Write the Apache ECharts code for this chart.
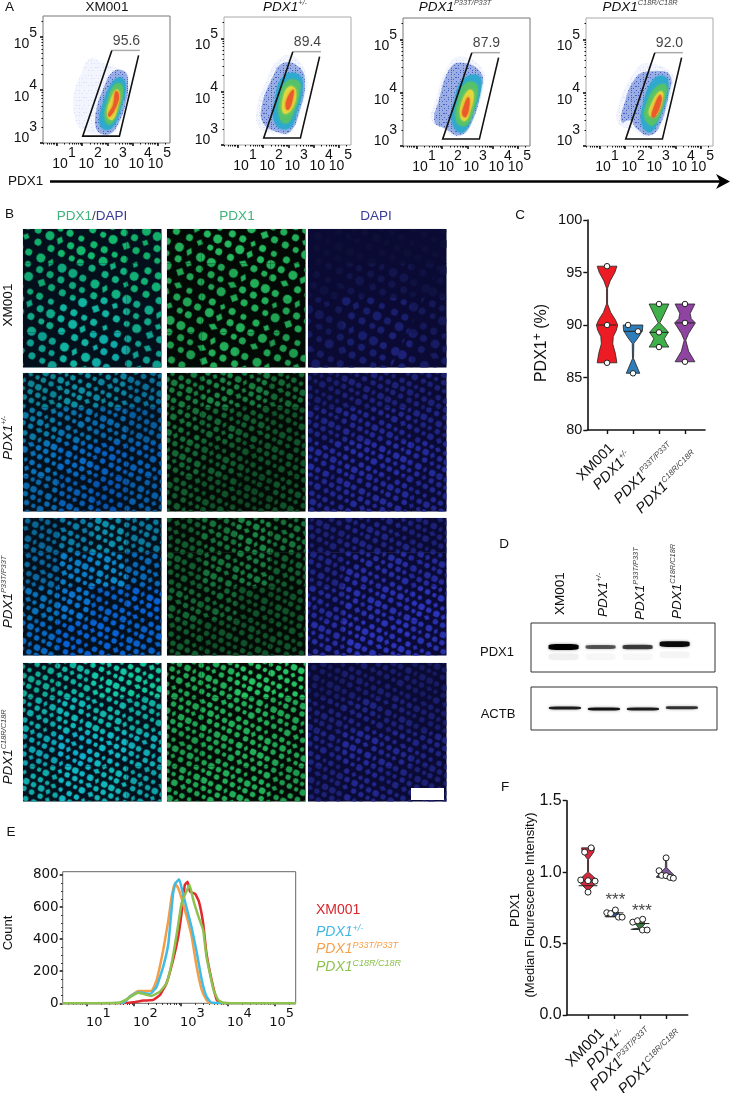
<!DOCTYPE html>
<html>
<head>
<meta charset="utf-8">
<style>html,body{margin:0;padding:0;background:#fff}#chart{width:731px;height:1093px}</style>
<script src="https://cdn.jsdelivr.net/npm/echarts@6/dist/echarts.min.js"></script>
</head>
<body>
<div id="chart"></div>
<script>
const FONT = '"Liberation Sans", Arial, sans-serif';
const WIDE = '"DejaVu Sans", sans-serif';

// panel A: gate and percentage, log10 units
const gatePct = ['95.6', '89.4', '87.9', '92.0'];
const gateCorners = [[2.02, 3.13], [3.17, 4.75], [4.28, 4.75], [3.47, 3.13]];
// density contours of each cloud, log10 units, outer to inner
const cloud1 = [
  [[1.77,3.38],[1.66,3.88],[1.97,4.32],[2.32,4.60],[2.82,4.51],[3.35,4.42],[3.81,4.29],[3.81,3.88],[3.48,3.38],[3.15,3.16],[2.49,3.16],[2.03,3.25]],
  [[2.53,3.31],[2.56,3.63],[2.82,4.01],[3.22,4.35],[3.68,4.35],[3.81,4.13],[3.72,3.75],[3.41,3.35],[3.08,3.17],[2.69,3.19]],
  [[2.69,3.38],[2.82,3.75],[3.22,4.16],[3.55,4.23],[3.72,4.07],[3.55,3.69],[3.28,3.35],[2.95,3.25]],
  [[2.89,3.47],[3.02,3.82],[3.28,4.10],[3.55,4.10],[3.59,3.88],[3.35,3.53],[3.08,3.35]],
  [[2.98,3.53],[3.15,3.85],[3.35,4.01],[3.48,3.94],[3.41,3.69],[3.19,3.44]],
  [[3.02,3.53],[3.22,3.72],[3.32,3.98],[3.45,3.91],[3.37,3.72],[3.10,3.50]]
];
const cloud2 = [
  [[1.87,3.31],[1.74,3.66],[2.14,4.23],[2.60,4.60],[3.19,4.67],[3.72,4.26],[3.52,3.72],[3.06,3.22],[2.47,3.22]],
  [[2.00,3.41],[1.94,3.72],[2.33,4.23],[2.80,4.54],[3.45,4.45],[3.65,4.16],[3.45,3.66],[3.06,3.25],[2.53,3.25]],
  [[2.47,3.41],[2.47,3.85],[2.80,4.29],[3.39,4.32],[3.56,4.10],[3.32,3.60],[3.00,3.31]],
  [[2.66,3.50],[2.66,3.91],[2.93,4.19],[3.39,4.19],[3.45,4.01],[3.19,3.60],[2.93,3.41]],
  [[2.80,3.60],[2.80,3.91],[3.06,4.10],[3.30,4.01],[3.12,3.66]],
  [[2.90,3.69],[2.93,3.85],[3.19,4.04],[3.16,3.85],[3.00,3.66]]
];
const cloud3 = [
  [[1.57,3.48],[1.70,3.80],[2.29,4.55],[2.82,4.68],[3.61,4.43],[3.61,4.11],[3.08,3.36],[2.62,3.17],[2.03,3.33]],
  [[1.70,3.45],[1.83,3.80],[2.36,4.49],[2.95,4.55],[3.55,4.36],[3.55,4.08],[3.15,3.42],[2.69,3.20],[2.10,3.33]],
  [[2.43,3.39],[2.49,3.86],[2.82,4.24],[3.35,4.33],[3.55,4.18],[3.22,3.61],[2.82,3.26]],
  [[2.58,3.45],[2.62,3.86],[2.95,4.18],[3.37,4.14],[3.28,3.74],[2.95,3.39]],
  [[2.72,3.55],[2.76,3.80],[3.06,4.05],[3.24,3.99],[3.08,3.61],[2.89,3.47]],
  [[2.80,3.58],[2.85,3.74],[3.03,3.92],[3.08,3.80],[2.95,3.55]]
];
const cloud4 = [
  [[1.73,3.42],[1.73,3.74],[2.32,4.36],[2.85,4.55],[3.84,4.36],[3.84,4.05],[3.37,3.36],[2.85,3.17],[2.32,3.30]],
  [[1.86,3.45],[1.93,3.74],[2.45,4.30],[3.11,4.40],[3.77,4.33],[3.70,3.92],[3.31,3.33],[2.91,3.20],[2.45,3.33],[2.19,3.48]],
  [[2.65,3.42],[2.72,3.80],[3.11,4.24],[3.57,4.30],[3.70,4.08],[3.37,3.55],[2.98,3.26]],
  [[2.78,3.52],[2.85,3.80],[3.24,4.11],[3.61,4.14],[3.51,3.80],[3.11,3.39]],
  [[2.95,3.58],[3.05,3.80],[3.37,4.02],[3.51,3.96],[3.24,3.58]],
  [[3.05,3.55],[3.11,3.70],[3.37,3.96],[3.44,3.86],[3.18,3.55]]
];

// panel B: coarse staining intensity of each field, 0-1, four rows by four columns
const pdxField = [
  [[.85,.9,.9,.85],[.8,.8,.85,.85],[.8,.85,.85,.8],[.75,.85,.8,.75]],
  [[.6,.65,.6,.5],[.55,.5,.45,.4],[.5,.45,.4,.4],[.45,.4,.35,.4]],
  [[.45,.55,.65,.55],[.45,.55,.6,.45],[.5,.5,.4,.4],[.45,.4,.4,.4]],
  [[.8,.85,.95,.95],[.8,.85,.85,.8],[.75,.8,.85,.8],[.8,.85,.85,.75]]
];
const dapiField = [
  [[.25,.25,.25,.25],[.3,.35,.35,.3],[.4,.5,.5,.4],[.45,.5,.55,.45]],
  [[.5,.55,.55,.55],[.6,.65,.65,.6],[.7,.75,.75,.7],[.65,.7,.7,.65]],
  [[.55,.6,.6,.55],[.6,.75,.75,.7],[.7,.8,.8,.85],[.75,.85,.85,.8]],
  [[.45,.5,.5,.45],[.55,.6,.55,.5],[.6,.7,.65,.6],[.55,.65,.6,.55]]
];

// panel C: [value, half width] outlines, points, medians
const pctViolin = [
  [[95.6,.38],[95,.3],[94.2,.12],[93.5,.02],[92,.02],[91.2,.14],[90.5,.32],[90,.41],[89.5,.36],[88.9,.24],[88.2,.22],[87.3,.32],[86.4,.38]],
  [[90,.38],[89.45,.36],[88.8,.2],[88.25,.03],[86.8,.02],[86.1,.14],[85.4,.26]],
  [[92,.38],[91,.19],[90.2,.03],[89.6,.26],[89.3,.36],[88.7,.2],[88.2,.3],[87.9,.38]],
  [[92,.38],[91.1,.2],[90.6,.24],[90.2,.4],[89.2,.14],[88.55,.03],[87.5,.14],[86.5,.38]]
];
const pctPoints = [[0,95.6],[0,90],[0,86.4],[.81,90],[1.19,89.4],[1,85.4],[2,92],[2,89.3],[2,87.9],[3,92],[3,90.2],[3,86.5]];
const pctMedian = [[90], [89.4], [89.3], [90.2]];

// panel D: [lane, position, intensity]
const pdx1Bands = [[0,.49,1],[1,.49,.6],[2,.49,.7],[3,.43,.95]];
const pdx1Smear = [[0,.69,.06],[1,.69,.03],[2,.69,.03],[3,.65,.04]];
const actbBands = [[0,.49,.85],[1,.51,.9],[2,.51,.85],[3,.48,.75]];

// panel E: [log10 intensity, count]
const histRed = [[.48,0],[1.70,0],[1.98,6],[2.20,17],[2.41,21],[2.55,52],[2.69,125],[2.83,270],[2.94,416],[3.01,561],[3.08,738],[3.14,758],[3.19,696],[3.30,682],[3.38,634],[3.47,499],[3.54,312],[3.65,145],[3.76,21],[3.86,2],[5.44,0]];
const histBlue = [[.48,0],[1.77,4],[1.91,42],[2.09,69],[2.34,58],[2.48,104],[2.62,229],[2.73,374],[2.83,686],[2.88,748],[2.96,773],[3.03,696],[3.12,592],[3.22,478],[3.33,322],[3.44,145],[3.54,42],[3.65,4],[5.44,0]];
const histOrange = [[.48,0],[1.77,4],[1.91,42],[2.09,77],[2.37,77],[2.48,145],[2.62,332],[2.73,520],[2.80,665],[2.87,748],[2.94,717],[3.01,655],[3.12,540],[3.22,426],[3.33,229],[3.44,83],[3.54,21],[3.61,2],[5.44,0]];
const histGreen = [[.48,0],[1.70,4],[1.84,25],[2.09,66],[2.37,46],[2.55,73],[2.69,125],[2.80,249],[2.91,436],[3.01,623],[3.08,675],[3.18,738],[3.26,644],[3.37,540],[3.47,457],[3.54,291],[3.69,83],[3.79,21],[3.90,2],[5.44,0]];

// panel F
const mfiViolin = [
  [[1.17,.25],[1.14,.22],[1.09,.02],[1,.02],[.97,.2],[.94,.38],[.905,.2],[.87,.02]],
  [[.735,.05],[.715,.2],[.7,.1],[.688,.3]],
  [[.665,.08],[.64,.2],[.61,.05],[.6,.3]],
  [[1.10,.02],[1.03,.03],[1,.2],[.965,.38]]
];
const mfiPoints = [[.12,1.17],[-.13,1.14],[-.28,.945],[0,.94],[.27,.937],[0,.86],
  [.72,.716],[.87,.71],[1.05,.735],[1.17,.685],[1.31,.685],
  [1.72,.65],[1.9,.66],[2.1,.67],[2.09,.595],[2.27,.595],
  [3,1.10],[2.73,1.01],[2.83,.977],[3,.975],[3.15,.963],[3.28,.958]];
const mfiMedian = [[.94,.905], [.715,.688], [.64,.6], [.965]];
const mfiStars = [[1.05,.8],[2.07,.725]];

const groupNames = ['XM001', '{i|PDX1}{s|+/-}', '{i|PDX1}{s|P33T/P33T}', '{i|PDX1}{s|C18R/C18R}'];
const cloudColors = ['rgba(150,170,235,.12)', 'rgba(70,105,205,.5)', '#2fa9cf', '#55c26a', '#e3d93c', '#ea5a2a'];
const violinColorsC = ['#ed1c24', '#2e7ebc', '#3fb04a', '#8e44a0'];
const violinColorsF = ['#d6283c', '#2b5fa0', '#3a7a3a', '#7d5a94'];

// texture tiles used as decals
const speckleX = [[1,3,1,2,1,4],[0,2,1,4,1,2,1,1,0,0],[1,1,1,4,1,3,1,0],[0,4,1,2,1,1,1,2]];
const nucleiX = [
  [6,2,5,3,7,2,4,3,6,2],
  [0,3,6,2,4,3,7,2,5,3,5,0],
  [5,3,4,2,7,3,6,2,5,3],
  [0,4,7,2,5,3,4,2,6,3,4,0],
  [7,2,5,3,6,2,5,3,5,2],
  [0,2,5,3,6,3,7,2,5,3,4,0]
];
const nucleiY = [6,2,5,2,6,3,5,2,6,2,5,3];

const grids = [], xAxes = [], yAxes = [], series = [], graphics = [];

function supRich(size, family) {
  return {
    i: {fontStyle: 'italic', fontSize: size, fontFamily: family || FONT},
    s: {fontStyle: 'italic', fontSize: size * .55, fontFamily: family || FONT, fill: '#444', color: '#444', padding: [0, 0, size * .55, 0]}
  };
}

function text(x, y, str, opt) {
  opt = opt || {};
  graphics.push({
    type: 'text', x: x, y: y, rotation: opt.rot || 0, z: 100, silent: true,
    style: {
      text: str, fill: opt.fill || '#111', fontSize: opt.size || 13.5, fontFamily: opt.family || FONT,
      align: opt.align || 'center', verticalAlign: 'middle',
      rich: opt.rich || supRich(opt.size || 13.5)
    }
  });
}

function logMinor(from, to) {
  const out = [];
  for (let d = 0; d < 6; d++) {
    for (let k = 2; k < 10; k++) {
      const v = d + Math.log10(k);
      if (v > from && v < to) out.push(v);
    }
  }
  return out;
}

function addGrid(box, gridOpt) {
  grids.push(Object.assign({
    left: box[0], top: box[1], width: box[2] - box[0], height: box[3] - box[1],
    containLabel: false, outerBoundsMode: 'none'
  }, gridOpt || {}));
  return grids.length - 1;
}

function addAxis(list, gridIndex, opt) {
  const pos = list === xAxes ? 'bottom' : 'left';
  list.push(Object.assign({gridIndex: gridIndex, position: pos, splitLine: {show: false}, scale: true}, opt));
  return list.length - 1;
}

function blackLine(w) {
  return {show: true, onZero: false, lineStyle: {color: '#111', width: w}};
}

function polygonSeries(xi, yi, rows, z, style, smooth) {
  return {
    type: 'custom', xAxisIndex: xi, yAxisIndex: yi, data: rows, silent: true, z: z, encode: {x: 0, y: 1},
    renderItem(params, api) {
      if (params.dataIndex) return null;
      return {type: 'polygon', shape: {points: rows.map(p => api.coord(p)), smooth: smooth || 0}, style: style};
    }
  };
}

// ---- panel A
function cloudStyle(i) {
  if (i < 2) {
    return {
      fill: cloudColors[i],
      decal: {
        color: i ? 'rgba(35,60,175,.85)' : 'rgba(60,85,190,.55)', symbol: 'rect', symbolSize: i ? .8 : .5,
        dashArrayX: speckleX, dashArrayY: i ? [1, 1, 1, 2, 1, 1, 1, 1] : [1, 2, 1, 3, 1, 2, 1, 4]
      }
    };
  }
  return {fill: cloudColors[i], shadowBlur: 3, shadowColor: cloudColors[i]};
}

function flowPlot(box, cloud, pct, borderColor) {
  const g = addGrid(box, {show: true, borderColor: borderColor, borderWidth: 1});
  const common = {type: 'value'};
  const xLabel = at => ({
    show: true, customValues: at, margin: 3, hideOverlap: false, showMinLabel: true, showMaxLabel: true,
    color: '#111', fontFamily: FONT, fontSize: 14,
    formatter: v => '{b|10}{s|' + Math.floor(v) + '}',
    rich: {b: {fontSize: 14, fontFamily: FONT}, s: {fontSize: 14, fontFamily: FONT, padding: [0, 0, 22, 0]}}
  });
  const xi = addAxis(xAxes, g, Object.assign({}, common, {
    min: .45, max: 5.47, axisLine: {show: false},
    axisTick: {show: true, customValues: [1, 2, 3, 4, 5], length: 3, lineStyle: {color: '#111', width: 1.6}},
    axisLabel: xLabel([1.28, 2.31, 3.3, 4.29])
  }));
  // minor ticks, and the last label that sits on top of its neighbour
  addAxis(xAxes, g, Object.assign({}, common, {
    min: .45, max: 5.47, axisLine: {show: false}, axisLabel: xLabel([5.05]),
    axisTick: {show: true, customValues: logMinor(.45, 5.47), length: 1.5, lineStyle: {color: '#111', width: 1}}
  }));
  const yi = addAxis(yAxes, g, Object.assign({}, common, {
    min: 3, max: 5.4, axisLine: {show: false},
    axisTick: {show: true, customValues: [3, 4, 5], length: 3, lineStyle: {color: '#111', width: 1.6}},
    axisLabel: {
      show: true, customValues: [3, 4, 5], margin: 6, color: '#111', fontFamily: FONT, fontSize: 14, hideOverlap: false, showMinLabel: true, showMaxLabel: true,
      formatter: v => (v === 3 ? '{c|10}{d|3}' : '{b|10}{s|' + v + '}'),
      rich: {
        b: {fontSize: 14, fontFamily: FONT, padding: [14, 0, 0, 0]},
        s: {fontSize: 14, fontFamily: FONT, padding: [0, 0, 9, 0]},
        c: {fontSize: 14, fontFamily: FONT, padding: [0, 0, 10, 0]},
        d: {fontSize: 14, fontFamily: FONT, padding: [0, 0, 32, 0]}
      }
    }
  }));
  addAxis(yAxes, g, Object.assign({}, common, {
    min: 3, max: 5.4, axisLine: {show: false}, axisLabel: {show: false},
    axisTick: {show: true, customValues: logMinor(3, 5.4), length: 1.5, lineStyle: {color: '#111', width: 1}}
  }));
  cloud.forEach((rows, i) => {
    series.push(polygonSeries(xi, yi, rows, 2 + i, cloudStyle(i), .45));
  });
  series.push({
    type: 'custom', xAxisIndex: xi, yAxisIndex: yi, data: gateCorners, silent: true, z: 10, encode: {x: 0, y: 1},
    renderItem(params, api) {
      if (params.dataIndex) return null;
      const p = gateCorners.map(c => api.coord(c));
      const rightTop = [p[2][0] - 1.3, p[2][1] + 5];
      return {type: 'group', children: [
        {type: 'polyline', shape: {points: [p[1], p[2]]}, style: {stroke: '#aaa', lineWidth: 1.5, fill: 'none'}},
        {type: 'polyline', shape: {points: [rightTop, p[3], p[0], p[1]]}, style: {stroke: '#111', lineWidth: 1.6, fill: 'none'}}
      ]};
    }
  });
  series.push({
    type: 'scatter', xAxisIndex: xi, yAxisIndex: yi, silent: true, z: 11, symbolSize: 1,
    itemStyle: {color: 'transparent'}, data: [[3.75, 4.93]],
    label: {show: true, position: 'inside', formatter: pct, color: '#111', fontSize: 14, fontFamily: FONT}
  });
}

flowPlot([43, 16, 170, 143], cloud1, gatePct[0], '#777');
flowPlot([224, 17, 351, 145], cloud2, gatePct[1], '#aaa');
flowPlot([403, 18, 530, 146], cloud3, gatePct[2], '#777');
flowPlot([586, 18, 713, 146], cloud4, gatePct[3], '#aaa');

text(5, 7, 'A', {align: 'left'});
text(107, 7, 'XM001');
text(285, 7, groupNames[1]);
text(455, 7, groupNames[2]);
text(640, 7, groupNames[3]);
text(8, 181, 'PDX1', {align: 'left'});
graphics.push({type: 'line', shape: {x1: 50, y1: 181.5, x2: 722, y2: 181.5}, style: {stroke: '#000', lineWidth: 2.4}, z: 100, silent: true});
graphics.push({type: 'polygon', shape: {points: [[720, 181.5], [716, 174], [730, 181.5], [716, 189]]}, style: {fill: '#000'}, z: 100, silent: true});

// ---- panel B
const fieldCols = [[23, 161], [167, 305], [308, 446]];
const fieldRows = [[229, 367], [373, 511], [518, 655], [663, 801]];
const fieldBack = ['#03101c', '#030a05', '#0a0a34'];

function nucleiDecal(color, big) {
  const k = big ? 1.35 : 1;
  return {
    color: color, symbol: ['circle', 'circle', 'circle', 'diamond', 'circle'], symbolSize: big ? 1 : 1.1, rotation: .45,
    dashArrayX: nucleiX.map(row => row.map(v => v * k)),
    dashArrayY: nucleiY.map(v => v * k)
  };
}

function fieldColor(kind, g, b) {
  if (kind === 1) return 'rgb(' + [Math.round(40 * g), Math.round(205 * g), Math.round(105 * g)] + ')';
  if (kind === 2) return 'rgb(' + [Math.round(50 * b), Math.round(60 * b), Math.round(215 * b)] + ')';
  return 'rgb(' + [Math.round(20 * g), Math.round(200 * g + 20 * b), Math.round(60 * g + 220 * b)] + ')';
}

fieldRows.forEach((rowBox, r) => {
  fieldCols.forEach((colBox, k) => {
    const g = addGrid([colBox[0], rowBox[0], colBox[1], rowBox[1]], {show: true, borderColor: '#c8ccd2', borderWidth: .5});
    const xi = addAxis(xAxes, g, {type: 'value', min: 0, max: 4, show: false});
    const yi = addAxis(yAxes, g, {type: 'value', min: 0, max: 4, inverse: true, show: false});
    const cells = [];
    pdxField[r].forEach((row, i) => row.forEach((v, j) => cells.push([j, i, v, dapiField[r][i][j]])));
    series.push({
      type: 'custom', xAxisIndex: xi, yAxisIndex: yi, data: cells, silent: true, z: 2, encode: {x: 0, y: 1},
      renderItem(params, api) {
        const a = api.coord([api.value(0), api.value(1)]);
        const b = api.coord([api.value(0) + 1, api.value(1) + 1]);
        return {
          type: 'rect', shape: {x: a[0], y: a[1], width: b[0] - a[0] + .5, height: b[1] - a[1] + .5},
          style: {fill: fieldBack[k], decal: nucleiDecal(fieldColor(k, api.value(2), api.value(3)), r === 0)}
        };
      }
    });
  });
});

text(5, 214, 'B', {align: 'left'});
text(92, 216, '{g|PDX1}{k|/}{d|DAPI}', {rich: {
  g: {fontSize: 13.5, fontFamily: FONT, fill: '#3fb27a'}, k: {fontSize: 13.5, fontFamily: FONT, fill: '#444'}, d: {fontSize: 13.5, fontFamily: FONT, fill: '#3a3a9a'}
}});
text(237, 216, 'PDX1', {fill: '#3fb27a'});
text(376, 216, 'DAPI', {fill: '#3a3a9a'});
text(8, 305, 'XM001', {rot: Math.PI / 2});
text(8, 438, groupNames[1], {rot: Math.PI / 2});
text(8, 592, groupNames[2], {rot: Math.PI / 2});
text(8, 747, groupNames[3], {rot: Math.PI / 2});
graphics.push({type: 'rect', shape: {x: 411, y: 788, width: 33, height: 12}, style: {fill: '#fff'}, z: 100, silent: true});

// ---- shared by C and F
function violinPlot(box, xRange, yAxisOpt, shapes, points, medians, colors, pointSize, labelAt, labelSize, margins) {
  const g = addGrid(box);
  const nameAt = v => {
    let best = 0;
    labelAt.forEach((at, i) => { if (Math.abs(at - v) < Math.abs(labelAt[best] - v)) best = i; });
    return groupNames[best];
  };
  const slanted = (at, margin) => ({
    show: true, customValues: at, rotate: 45, margin: margin, hideOverlap: false,
    color: '#111', fontSize: labelSize, fontFamily: FONT,
    formatter: nameAt, rich: supRich(labelSize)
  });
  const xi = addAxis(xAxes, g, {
    type: 'value', min: xRange[0], max: xRange[1], axisLine: blackLine(1.6),
    axisTick: {show: true, customValues: [0, 1, 2, 3], length: 4, lineStyle: {color: '#111', width: 1.4}},
    axisLabel: slanted([labelAt[0], labelAt[2]], margins[0])
  });
  // the other two labels run close to their neighbours, so they get their own axis
  addAxis(xAxes, g, {
    type: 'value', min: xRange[0], max: xRange[1], axisLine: {show: false}, axisTick: {show: false},
    axisLabel: slanted([labelAt[1], labelAt[3]], margins[1])
  });
  const yi = addAxis(yAxes, g, Object.assign({
    type: 'value', axisLine: blackLine(1.6),
    axisTick: {show: true, length: 4, lineStyle: {color: '#111', width: 1.4}},
    axisLabel: {show: true, margin: 5, color: '#111', fontFamily: FONT}
  }, yAxisOpt));
  shapes.forEach((shape, i) => {
    const rows = shape.map(s => [i + s[1], s[0]]).concat(shape.slice().reverse().map(s => [i - s[1], s[0]]));
    series.push(polygonSeries(xi, yi, rows, 3, {fill: colors[i], stroke: '#222', lineWidth: .8}));
    series.push({
      type: 'custom', xAxisIndex: xi, yAxisIndex: yi, data: medians[i].map(v => [i, v]), silent: true, z: 4, encode: {x: 0, y: 1},
      renderItem(params, api) {
        const a = api.coord([api.value(0) - .36, api.value(1)]);
        const b = api.coord([api.value(0) + .36, api.value(1)]);
        return {type: 'line', shape: {x1: a[0], y1: a[1], x2: b[0], y2: b[1]}, style: {stroke: '#222', lineWidth: 1}};
      }
    });
  });
  series.push({
    type: 'scatter', xAxisIndex: xi, yAxisIndex: yi, data: points, symbolSize: pointSize, silent: true, z: 5,
    itemStyle: {color: '#fff', borderColor: '#222', borderWidth: 1, opacity: 1}
  });
  return [xi, yi];
}

// ---- panel C
violinPlot([587.3, 220, 705, 430], [-.76, 3.77],
  {min: 80, max: 100, interval: 5, axisLabel: {show: true, margin: 5, color: '#111', fontFamily: FONT, fontSize: 14.5}},
  pctViolin, pctPoints, pctMedian, violinColorsC, 5.5, [.19, .85, 2.5, 3.42], 14.5, [16, 24]);
text(520, 215, 'C');
text(542, 343, 'PDX1{u|+} (%)', {rot: Math.PI / 2, size: 16, rich: {u: {fontSize: 12, fontFamily: FONT, padding: [0, 0, 9, 0]}}});

// ---- panel D
function blot(box, bands, smear, lanes, bandWidth, bandHeight) {
  const g = addGrid(box, {show: true, borderColor: '#333', borderWidth: 1});
  const xi = addAxis(xAxes, g, {type: 'value', min: lanes[0], max: lanes[1], show: false});
  const yi = addAxis(yAxes, g, {type: 'value', min: 0, max: 1, inverse: true, show: false});
  const bandSeries = (rows, blur, glow) => ({
    type: 'scatter', xAxisIndex: xi, yAxisIndex: yi, data: rows, symbol: 'roundRect', silent: true, z: 3,
    symbolSize: v => [bandWidth, bandHeight(v[2], blur)],
    itemStyle: {color: p => 'rgba(0,0,0,' + p.value[2] + ')', shadowBlur: blur, shadowColor: glow, opacity: 1}
  });
  series.push(bandSeries(bands, 3, 'rgba(0,0,0,.45)'));
  if (smear) series.push(bandSeries(smear, 6, 'rgba(0,0,0,.06)'));
}
blot([531, 623, 715, 672], pdx1Bands, pdx1Smear, [-.88, 4.09], 30, (v, blur) => (blur > 3 ? 7 : 1.5 + 4.5 * v));
blot([531, 687, 717, 730], actbBands, null, [-.87, 3.9], 32, () => 3);
text(504, 544, 'D');
text(560, 615, 'XM001', {rot: Math.PI / 2, align: 'left'});
text(603, 617, groupNames[1], {rot: Math.PI / 2, align: 'left'});
text(640, 620, groupNames[2], {rot: Math.PI / 2, align: 'left'});
text(677, 619, groupNames[3], {rot: Math.PI / 2, align: 'left'});
text(497, 652, 'PDX1', {size: 13});
text(498, 714, 'ACTB', {size: 13});

// ---- panel E
const gE = addGrid([62.7, 871.7, 295.7, 1003.3], {show: true, borderColor: '#666', borderWidth: 1});
const xE = addAxis(xAxes, gE, {
  type: 'value', min: .48, max: 5.44, axisLine: {show: false},
  axisTick: {show: true, customValues: [1, 2, 3, 4, 5], length: 3, lineStyle: {color: '#111', width: 1.5}},
  axisLabel: {
    show: true, customValues: [1.24, 2.24, 3.24, 4.24, 5.14], margin: 4, hideOverlap: false, showMinLabel: true, showMaxLabel: true,
    color: '#111', fontFamily: WIDE, fontSize: 13,
    formatter: v => '{b|10}{s|' + Math.floor(v) + '}',
    rich: {b: {fontSize: 13, fontFamily: WIDE}, s: {fontSize: 13, fontFamily: WIDE, padding: [0, 0, 18, 0]}}
  }
});
addAxis(xAxes, gE, {
  type: 'value', min: .48, max: 5.44, axisLine: {show: false}, axisLabel: {show: false},
  axisTick: {show: true, customValues: logMinor(.48, 5.44), length: 1.5, lineStyle: {color: '#111', width: 1}}
});
const yE = addAxis(yAxes, gE, {
  type: 'value', min: 0, max: 820, axisLine: {show: false},
  axisTick: {show: true, customValues: [0, 200, 400, 600, 800], length: 3, lineStyle: {color: '#111', width: 1.5}},
  axisLabel: {show: true, customValues: [0, 200, 400, 600, 800], margin: 4, color: '#111', fontFamily: WIDE, fontSize: 13.5, hideOverlap: false, showMinLabel: true, showMaxLabel: true}
});
addAxis(yAxes, gE, {
  type: 'value', min: 0, max: 820, axisLine: {show: false}, axisLabel: {show: false},
  axisTick: {show: true, customValues: [50, 100, 150, 250, 300, 350, 450, 500, 550, 650, 700, 750], length: 1.5, lineStyle: {color: '#111', width: 1}}
});
[[histRed, '#e0282e'], [histOrange, '#f59d45'], [histBlue, '#3dbce8'], [histGreen, '#8cc24e']].forEach(h => {
  series.push({
    type: 'line', xAxisIndex: xE, yAxisIndex: yE, data: h[0], showSymbol: false, smooth: .12, silent: true, z: 3,
    lineStyle: {color: h[1], width: 2.5}
  });
});
text(11, 832, 'E');
text(8, 933, 'Count', {rot: Math.PI / 2, size: 13});
text(316, 910, 'XM001', {align: 'left', fill: '#d8262e', size: 14});
const legendRich = c => ({i: {fontStyle: 'italic', fontSize: 14, fontFamily: FONT, fill: c}, s: {fontStyle: 'italic', fontSize: 9, fontFamily: FONT, fill: c, padding: [0, 0, 8, 0]}});
text(316, 932, groupNames[1], {align: 'left', rich: legendRich('#3fb6e2')});
text(316, 949, groupNames[2], {align: 'left', rich: legendRich('#f5a04a')});
text(316, 967, groupNames[3], {align: 'left', rich: legendRich('#8cc24e')});

// ---- panel F
const axF = violinPlot([566.7, 800.7, 687.7, 1015], [-.82, 3.83],
  {min: 0, max: 1.5, interval: .5, axisLabel: {show: true, margin: 5, color: '#111', fontFamily: FONT, fontSize: 16, formatter: v => v.toFixed(1)}},
  mfiViolin, mfiPoints, mfiMedian, violinColorsF, 6, [.54, 1.38, 2.38, 3.54], 15, [16, 18]);
series.push({
  type: 'scatter', xAxisIndex: axF[0], yAxisIndex: axF[1], data: mfiStars, symbolSize: 1, silent: true, z: 6,
  itemStyle: {color: 'transparent'},
  label: {show: true, position: 'inside', formatter: '***', color: '#111', fontSize: 17, fontFamily: FONT}
});
text(505, 787, 'F');
text(515, 910, 'PDX1', {rot: Math.PI / 2, size: 13});
text(530, 905, '(Median Flourescence Intensity)', {rot: Math.PI / 2, size: 13});

const chart = echarts.init(document.getElementById('chart'), null, {renderer: 'canvas'});
chart.setOption({
  animation: false,
  backgroundColor: '#fff',
  textStyle: {fontFamily: FONT},
  grid: grids,
  xAxis: xAxes,
  yAxis: yAxes,
  series: series,
  graphic: graphics
});
</script>
</body>
</html>
